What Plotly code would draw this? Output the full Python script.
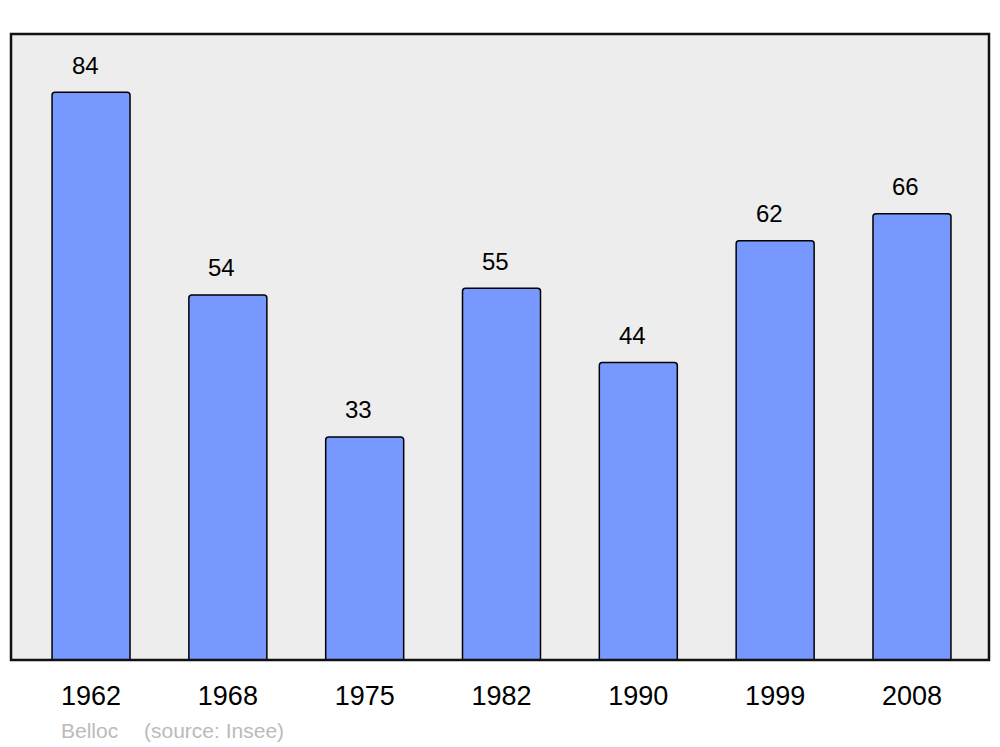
import plotly.graph_objects as go

years = ['1962', '1968', '1975', '1982', '1990', '1999', '2008']
population = [84, 54, 33, 55, 44, 62, 66]
commune = 'Belloc'
source = '(source: Insee)'

fig = go.Figure()
fig.add_trace(go.Bar(
    x=years,
    y=population,
    width=0.57,
    marker=dict(color='#7799FF', line=dict(color='#000000', width=1.5),
                cornerradius=3),
    hoverinfo='x+y'))

# value labels above bars (category index, since years look numeric)
for i, val in enumerate(population):
    fig.add_annotation(x=i, y=val, text=str(val), showarrow=False,
                       xshift=-6, yshift=27, yanchor='middle',
                       font=dict(size=24, color='#000000'))

fig.add_annotation(xref='paper', yref='paper', x=0.0491, y=0, yshift=-70,
                   xanchor='left', yanchor='middle', text=commune,
                   showarrow=False, font=dict(size=21, color='#BBBBBB'))
fig.add_annotation(xref='paper', yref='paper', x=0.1340, y=0, yshift=-70,
                   xanchor='left', yanchor='middle', text=source,
                   showarrow=False, font=dict(size=21, color='#BBBBBB'))

fig.add_shape(type='rect', xref='paper', yref='paper', x0=0, y0=0, x1=1, y1=1,
              line=dict(color='#111111', width=2.5), layer='above')

fig.update_layout(
    width=1000, height=747,
    margin=dict(l=11, r=11, t=34, b=87),
    paper_bgcolor='#FFFFFF',
    plot_bgcolor='#EDEDED',
    font=dict(family='Liberation Sans, Arial, sans-serif', color='#000000'),
    showlegend=False)
fig.update_xaxes(type='category', range=[-0.585, 6.563], showgrid=False,
                 ticks='outside', ticklen=12, tickcolor='rgba(0,0,0,0)',
                 tickfont=dict(size=27))
fig.update_yaxes(range=[0, 92.6], showgrid=False, showticklabels=False,
                 zeroline=False)

fig.write_html('out.html', config={'displayModeBar': False},
               post_script="document.body.style.margin='0';"
                           "document.body.style.overflow='hidden';")
